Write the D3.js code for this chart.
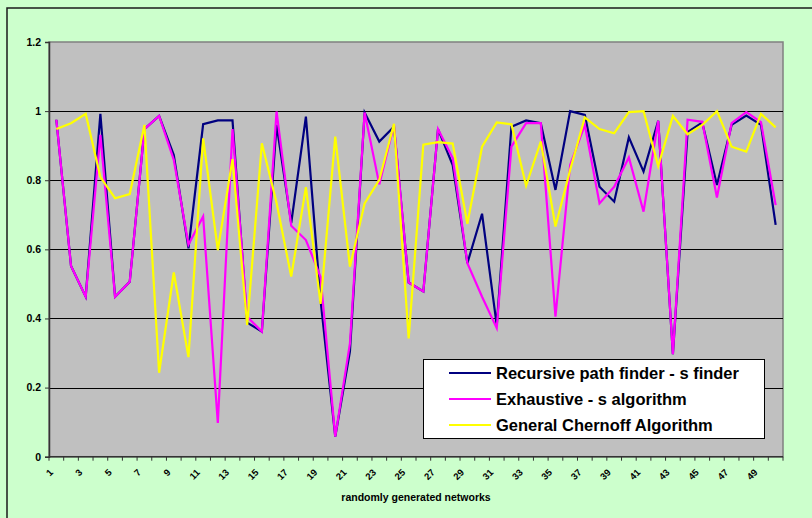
<!DOCTYPE html>
<html>
<head>
<meta charset="utf-8">
<script src="https://cdn.jsdelivr.net/npm/d3@7"></script>
<style>
  html, body { margin: 0; padding: 0; background: #CCFFCC; }
  svg { display: block; }
  text { font-family: "Liberation Sans", Arial, sans-serif; font-weight: bold; fill: #000; }
</style>
</head>
<body>
<svg id="chart" width="812" height="518"></svg>
<script>
// Network index 1..50
const networks = d3.range(1, 51);

// Reliability estimates per algorithm
const recursiveFinder = [
  0.975, 0.552, 0.463, 0.992, 0.463, 0.506, 0.948, 0.986, 0.873, 0.603,
  0.962, 0.973, 0.973, 0.388, 0.362, 0.960, 0.676, 0.984, 0.452, 0.058,
  0.305, 0.996, 0.912, 0.955, 0.504, 0.478, 0.948, 0.844, 0.560, 0.703,
  0.380, 0.955, 0.973, 0.965, 0.772, 1.000, 0.989, 0.781, 0.738, 0.924,
  0.825, 0.972, 0.297, 0.939, 0.967, 0.786, 0.960, 0.987, 0.960, 0.671
];
const exhaustive = [
  0.975, 0.552, 0.463, 0.931, 0.463, 0.506, 0.948, 0.986, 0.859, 0.614,
  0.695, 0.098, 0.948, 0.405, 0.362, 0.999, 0.668, 0.627, 0.520, 0.058,
  0.328, 0.996, 0.788, 0.960, 0.504, 0.478, 0.948, 0.864, 0.560, 0.463,
  0.372, 0.897, 0.965, 0.965, 0.405, 0.844, 0.960, 0.733, 0.781, 0.866,
  0.709, 0.972, 0.297, 0.975, 0.969, 0.750, 0.965, 0.997, 0.968, 0.728
];
const chernoff = [
  0.948, 0.965, 0.992, 0.809, 0.748, 0.760, 0.960, 0.243, 0.533, 0.288,
  0.921, 0.598, 0.861, 0.381, 0.907, 0.735, 0.521, 0.780, 0.442, 0.926,
  0.550, 0.733, 0.801, 0.963, 0.342, 0.903, 0.910, 0.906, 0.674, 0.897,
  0.967, 0.962, 0.784, 0.912, 0.666, 0.830, 0.982, 0.948, 0.936, 0.997,
  1.000, 0.841, 0.986, 0.933, 0.960, 1.000, 0.897, 0.883, 0.992, 0.953
];

const yTicks = [0, 0.2, 0.4, 0.6, 0.8, 1, 1.2];
const xTickLabels = networks.filter(n => n % 2 === 1);

const seriesNames = [
  "Recursive path finder - s finder",
  "Exhaustive - s algorithm",
  "General Chernoff Algorithm"
];
const seriesColors = ["#000080", "#FF00FF", "#FFFF00"];
const seriesValues = [recursiveFinder, exhaustive, chernoff];

const svg = d3.select("#chart");

// outer chart frame
svg.append("rect")
  .attr("x", 7).attr("y", 8)
  .attr("width", 820).attr("height", 530)
  .attr("fill", "#CCFFCC")
  .attr("stroke", "#1a1a1a").attr("stroke-width", 1.5);

const plot = { left: 49, right: 783, top: 42, bottom: 456.7 };

const x = d3.scaleBand()
  .domain(networks)
  .range([plot.left, plot.right]);

const y = d3.scaleLinear()
  .domain([0, 1.2])
  .range([plot.bottom, plot.top]);

// plot area
svg.append("rect")
  .attr("x", plot.left).attr("y", plot.top)
  .attr("width", plot.right - plot.left)
  .attr("height", plot.bottom - plot.top)
  .attr("fill", "#C0C0C0")
  .attr("stroke", "#808080").attr("stroke-width", 1.5);

// horizontal gridlines
svg.append("g")
  .selectAll("line")
  .data(yTicks.filter(v => v > 0 && v < 1.2))
  .join("line")
  .attr("x1", plot.left).attr("x2", plot.right)
  .attr("y1", d => Math.round(y(d)) + 0.5)
  .attr("y2", d => Math.round(y(d)) + 0.5)
  .attr("stroke", "#000").attr("stroke-width", 1);

// y axis
const yAxis = d3.axisLeft(y)
  .tickValues(yTicks)
  .tickSize(4)
  .tickPadding(4)
  .tickFormat(d3.format("~g"));
const gy = svg.append("g")
  .attr("transform", `translate(${plot.left},0)`)
  .call(yAxis);
gy.select(".domain").attr("stroke", "#333").attr("stroke-width", 1.5);
gy.selectAll(".tick line").attr("stroke", "#333");
gy.selectAll(".tick text")
  .style("font-size", "10.5px")
  .style("font-family", "'Liberation Sans', Arial, sans-serif")
  .style("font-weight", "bold");

// x axis: ticks at category boundaries
const boundaries = networks.map(n => x(n)).concat([plot.right]);
const gx = svg.append("g");
gx.append("line")
  .attr("x1", plot.left).attr("x2", plot.right)
  .attr("y1", plot.bottom).attr("y2", plot.bottom)
  .attr("stroke", "#333").attr("stroke-width", 1.5);
gx.selectAll("line.tk")
  .data(boundaries)
  .join("line")
  .attr("class", "tk")
  .attr("x1", d => d).attr("x2", d => d)
  .attr("y1", plot.bottom).attr("y2", plot.bottom + 4)
  .attr("stroke", "#333");

gx.selectAll("text.xl")
  .data(xTickLabels)
  .join("text")
  .attr("class", "xl")
  .attr("transform", d => `translate(${x(d) + x.bandwidth() / 2 - 5},${plot.bottom + 14}) rotate(-45)`)
  .attr("text-anchor", "end")
  .attr("dy", "0.35em")
  .style("font-size", "9.5px")
  .text(d => d);

// x axis title
svg.append("text")
  .attr("x", (plot.left + plot.right) / 2)
  .attr("y", 501)
  .attr("text-anchor", "middle")
  .style("font-size", "10.5px")
  .text("randomly generated networks");

// series lines
const line = d3.line()
  .x((d, i) => x(networks[i]) + x.bandwidth() / 2)
  .y(d => y(d));

svg.append("g")
  .selectAll("path")
  .data(seriesValues)
  .join("path")
  .attr("d", d => line(d))
  .attr("fill", "none")
  .attr("stroke", (d, i) => seriesColors[i])
  .attr("stroke-width", 2.2)
  .attr("stroke-linejoin", "miter");

// legend
const legend = svg.append("g");
legend.append("rect")
  .attr("x", 423.5).attr("y", 359.5)
  .attr("width", 341).attr("height", 79)
  .attr("fill", "#fff")
  .attr("stroke", "#000").attr("stroke-width", 1);

const rows = legend.selectAll("g.row")
  .data(seriesNames)
  .join("g")
  .attr("class", "row")
  .attr("transform", (d, i) => `translate(0,${373 + i * 26})`);
rows.append("line")
  .attr("x1", 449).attr("x2", 491)
  .attr("y1", 0).attr("y2", 0)
  .attr("stroke", (d, i) => seriesColors[i])
  .attr("stroke-width", 2.2);
rows.append("text")
  .attr("x", 496)
  .attr("dy", "0.36em")
  .style("font-size", "16.5px")
  .text(d => d);
</script>
</body>
</html>
